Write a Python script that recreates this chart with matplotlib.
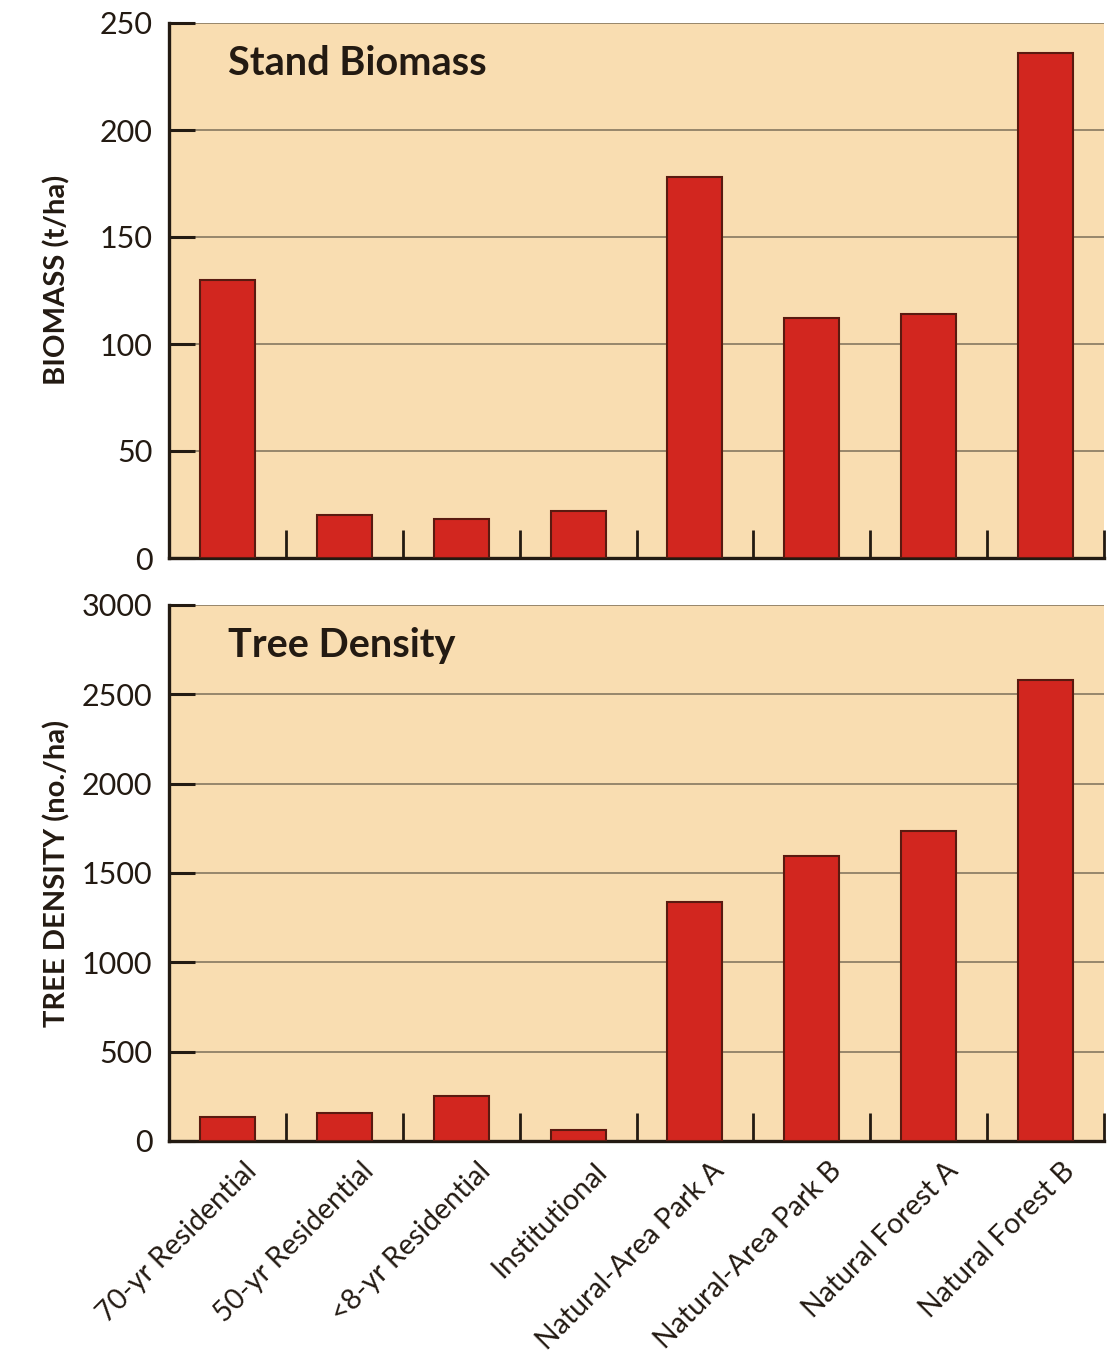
import matplotlib
matplotlib.use("Agg")
import matplotlib.pyplot as plt
import matplotlib.transforms as mtrans
from matplotlib.ticker import FixedLocator

categories = ["70-yr Residential", "50-yr Residential", "<8-yr Residential", "Institutional",
              "Natural-Area Park A", "Natural-Area Park B", "Natural Forest A", "Natural Forest B"]
biomass = [130, 20, 18, 22, 178, 112, 114, 236]
density = [135, 155, 250, 60, 1340, 1595, 1735, 2580]
biomass_ticks = [0, 50, 100, 150, 200, 250]
density_ticks = [0, 500, 1000, 1500, 2000, 2500, 3000]

BG = "#f9ddb1"
BAR = "#d2261f"
EDGE = "#5a1a10"
GRID = "#8f7f66"
DARK = "#231a12"

narrow = ["Lato", "DejaVu Sans"]
boldf = ["Lato", "DejaVu Sans"]

fig = plt.figure(figsize=(11.11, 13.63), dpi=100)
fig.patch.set_facecolor("white")

L = 169 / 1111
W = (1104 - 169) / 1111
ax1 = fig.add_axes([L, 1 - 558 / 1363, W, 535 / 1363])
ax2 = fig.add_axes([L, 1 - 1141 / 1363, W, 536 / 1363])

x = list(range(len(categories)))

def style(ax, vals, ticks, title, ylabel):
    ax.set_facecolor(BG)
    ax.set_axisbelow(True)
    ax.bar(x, vals, width=0.47, color=BAR, edgecolor=EDGE, linewidth=1.5, zorder=3)
    ax.set_xlim(-0.5, len(categories) - 0.5)
    ax.set_ylim(ticks[0], ticks[-1])
    ax.set_yticks(ticks)
    ax.set_yticklabels([str(t) for t in ticks], family=narrow, fontsize=22, color=DARK)
    ax.yaxis.grid(True, color=GRID, linewidth=1.3)
    ax.tick_params(axis="y", direction="in", length=19, width=2.2, color=DARK, pad=12)
    ax.xaxis.set_minor_locator(FixedLocator([i + 0.5 for i in range(len(categories))]))
    ax.tick_params(axis="x", which="minor", direction="in", length=20, width=2, color=DARK)
    ax.tick_params(axis="x", which="major", length=0)
    for s in ["top", "right"]:
        ax.spines[s].set_visible(False)
    for s in ["left", "bottom"]:
        ax.spines[s].set_linewidth(2.4)
        ax.spines[s].set_color(DARK)
    ax.text(0.063, 0.925, title, transform=ax.transAxes, family=boldf, fontweight="bold",
            fontsize=28.5, color=DARK, va="center", ha="left")
    ax.set_ylabel(ylabel, family=boldf, fontweight="bold", fontsize=21, color=DARK)

style(ax1, biomass, biomass_ticks, "Stand Biomass", "BIOMASS (t/ha)")
style(ax2, density, density_ticks, "Tree Density", "TREE DENSITY (no./ha)")

ax1.set_xticks(x)
ax1.set_xticklabels([])
ax2.set_xticks(x)
ax2.set_xticklabels(categories, rotation=45, ha="right", rotation_mode="anchor",
                    family=narrow, fontsize=20.5, color=DARK)
ax2.tick_params(axis="x", which="major", pad=12)
offset = mtrans.ScaledTranslation(0.16, 0, fig.dpi_scale_trans)
for lab in ax2.get_xticklabels():
    lab.set_transform(lab.get_transform() + offset)

ax1.yaxis.set_label_coords(-0.105, 0.52)
ax2.yaxis.set_label_coords(-0.105, 0.5)

fig.savefig("out.png", dpi=100, facecolor="white")
